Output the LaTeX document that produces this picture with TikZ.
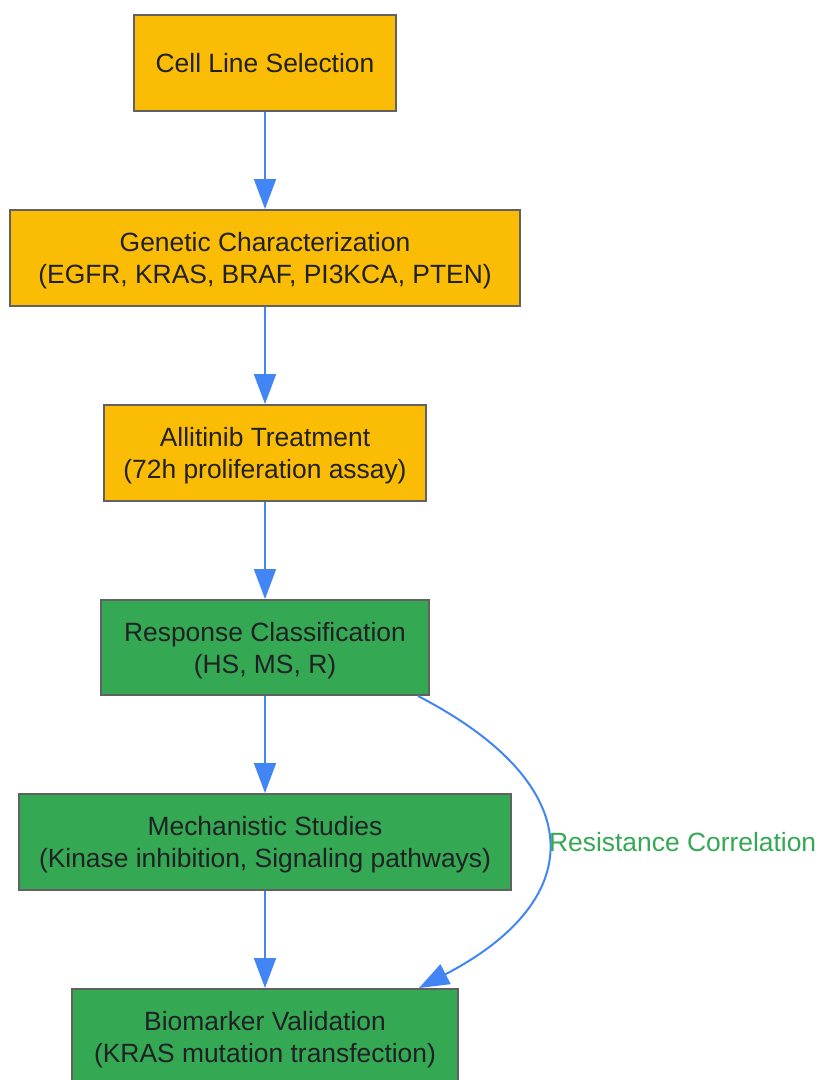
\documentclass[tikz,border=0pt]{standalone}
\usepackage{fontspec}
\setmainfont{Liberation Sans}
\usetikzlibrary{arrows.meta,calc}
\definecolor{gyellow}{HTML}{FBBC05}
\definecolor{ggreen}{HTML}{34A853}
\definecolor{gblue}{HTML}{4285F4}
\definecolor{gborder}{HTML}{616161}
\definecolor{gtext}{HTML}{202124}
\begin{document}
\begin{tikzpicture}[x=1pt,y=-1pt,
  box/.style={draw=gborder,line width=2pt,align=center,text=gtext,
    font=\fontsize{26.4}{32}\selectfont,inner sep=0pt,text depth=-3pt},
  ybox/.style={box,fill=gyellow},
  gbox/.style={box,fill=ggreen},
  conn/.style={draw=gblue,line width=2pt,-{Triangle[length=30pt,width=22pt]}}]
\useasboundingbox (0,0) rectangle (821,1080);
\node[ybox,minimum width=262pt,minimum height=96pt] (n1) at (265,63) {Cell Line Selection};
\node[ybox,minimum width=510pt,minimum height=96pt] (n2) at (265,258) {Genetic Characterization\\(EGFR, KRAS, BRAF, PI3KCA, PTEN)};
\node[ybox,minimum width=322pt,minimum height=96pt] (n3) at (265,453) {Allitinib Treatment\\(72h proliferation assay)};
\node[gbox,minimum width=328pt,minimum height=95pt] (n4) at (265,647.5) {Response Classification\\(HS, MS, R)};
\node[gbox,minimum width=492pt,minimum height=96pt] (n5) at (265,842) {Mechanistic Studies\\(Kinase inhibition, Signaling pathways)};
\node[gbox,minimum width=386pt,minimum height=96pt] (n6) at (265,1037) {Biomarker Validation\\(KRAS mutation transfection)};
\draw[conn] (n1) -- (n2);
\draw[conn] (n2) -- (n3);
\draw[conn] (n3) -- (n4);
\draw[conn] (n4) -- (n5);
\draw[conn] (n5) -- (n6);
\coordinate (cs) at ([xshift=-12pt]n4.south east);
\coordinate (ce) at ([xshift=-40pt]n6.north east);
\draw[conn] (cs) .. controls +(172,89) and +(171,-89) .. node[pos=0.5,anchor=west,text=ggreen,font=\fontsize{26.4}{32}\selectfont,inner sep=1pt] {Resistance Correlation} (ce);
\end{tikzpicture}
\end{document}
